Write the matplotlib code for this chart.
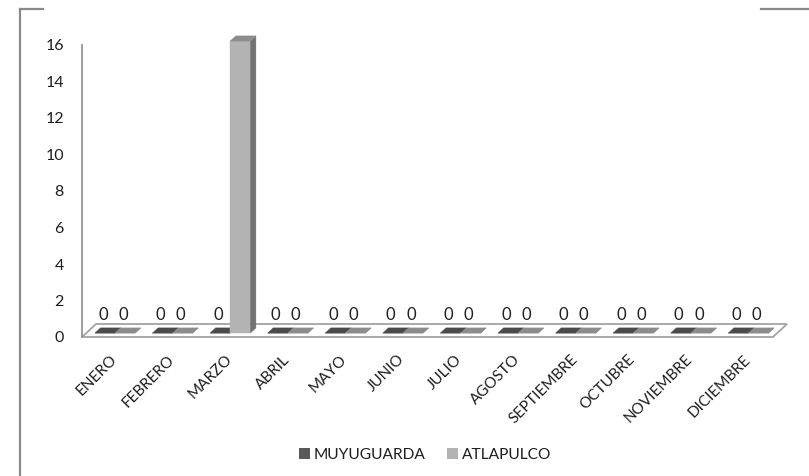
import numpy as np
import matplotlib.pyplot as plt
from matplotlib.patches import Polygon, Patch
from matplotlib.lines import Line2D

plt.rcParams['font.family'] = ['Lato', 'DejaVu Sans']

#%% data
months = ['ENERO', 'FEBRERO', 'MARZO', 'ABRIL', 'MAYO', 'JUNIO', 'JULIO',
          'AGOSTO', 'SEPTIEMBRE', 'OCTUBRE', 'NOVIEMBRE', 'DICIEMBRE']
muyuguarda = [0, 0, 0, 0, 0, 0, 0, 0, 0, 0, 0, 0]
atlapulco = [0, 0, 16, 0, 0, 0, 0, 0, 0, 0, 0, 0]
series_names = ['MUYUGUARDA', 'ATLAPULCO']

# colours for front / side / top faces
dark = ('#595959', '#3d3d3d', '#4b4b4b')
light = ('#b3b3b3', '#727272', '#8c8c8c')
txt = '#1f1f1f'

#%% figure
fig = plt.figure(figsize=(8.09, 4.76), dpi=100)
W, H = 809, 476
ax = fig.add_axes([82 / W, (H - 337) / H, (773 - 82) / W, (337 - 45) / H])
ax.set_xlim(0, 12)
ax.set_ylim(0, 16)
for s in ax.spines.values():
    s.set_visible(False)

# depth of the floor, in data units (14 px right, 13 px up)
DX = 14 / (691 / 12)
DY = 13 / (292 / 16)
F, B = 0.3, 0.7   # bar front / back depth fraction


def bar3d(x0, w, v, cols):
    fx, fy, bx, by = F * DX, F * DY, B * DX, B * DY
    front = [(x0 + fx, fy), (x0 + w + fx, fy), (x0 + w + fx, v + fy), (x0 + fx, v + fy)]
    side = [(x0 + w + fx, fy), (x0 + w + bx, by), (x0 + w + bx, v + by), (x0 + w + fx, v + fy)]
    top = [(x0 + fx, v + fy), (x0 + w + fx, v + fy), (x0 + w + bx, v + by), (x0 + bx, v + by)]
    for pts, c in ((front, cols[0]), (side, cols[1]), (top, cols[2])):
        ax.add_patch(Polygon(pts, closed=True, facecolor=c, edgecolor=c, lw=0.3, clip_on=False))


# floor and left wall edge
floor = Polygon([(0, 0), (12, 0), (12 + DX, DY), (DX, DY)], closed=True,
                facecolor='white', edgecolor='#a3a3a3', lw=1.3, clip_on=False, zorder=0.5)
ax.add_patch(floor)
ax.plot([0, 0], [0, 16], color='#8c8c8c', lw=1.2, clip_on=False)

bw = 0.35
x = np.arange(len(months)) + 0.5
for i in range(len(months)):
    for j, (vals, cols) in enumerate(((muyuguarda, dark), (atlapulco, light))):
        x0 = x[i] - bw + j * bw
        v = vals[i]
        bar3d(x0, bw, v, cols)
        if v < 16:
            ax.annotate(str(v), (x0 + bw / 2 + F * DX, v + F * DY), xytext=(-1.5, 13),
                        textcoords='offset points', ha='center', va='center',
                        fontsize=12, color=txt)

ax.set_yticks(np.arange(0, 17, 2))
ax.tick_params(axis='y', length=0, pad=13, labelsize=11.5, labelcolor=txt)
ax.set_xticks(x - 0.02, months, rotation=45, ha='right', rotation_mode='anchor')
ax.tick_params(axis='x', length=0, pad=11, labelsize=11, labelcolor=txt)

# legend
handles = [Patch(facecolor=dark[0]), Patch(facecolor=light[0])]
fig.legend(handles, series_names, loc='center', bbox_to_anchor=(425 / W, 1 - 455 / H),
           ncol=2, frameon=False, fontsize=11.2, handlelength=0.7, handleheight=0.7,
           handletextpad=0.25, columnspacing=1.4, labelcolor=txt)

# partial chart border
bc = '#8a8a8a'
fig.add_artist(Line2D([20 / W, 20 / W], [1 - 9 / H, 0], color=bc, lw=1.6))
fig.add_artist(Line2D([20 / W, 43 / W], [1 - 9 / H, 1 - 9 / H], color=bc, lw=1.6))
fig.add_artist(Line2D([761 / W, 1], [1 - 9 / H, 1 - 9 / H], color=bc, lw=1.6))

fig.savefig('out.png', dpi=100)
